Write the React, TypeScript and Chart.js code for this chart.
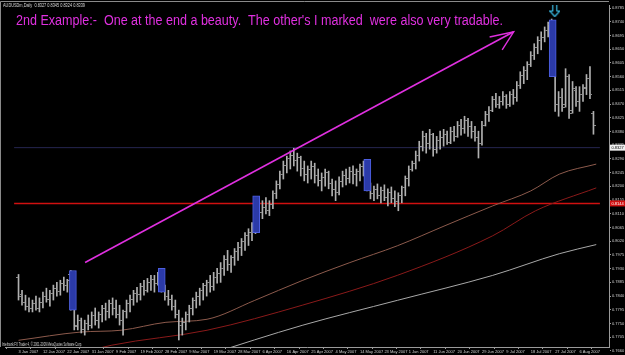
import React, { useEffect, useRef } from 'react';
import Chart from 'chart.js/auto';

// ---- data (prices in pips, 1 pip = 0.0001) ----
const dateLabels = ['3 Jan 2007','12 Jan 2007','22 Jan 2007','31 Jan 2007','9 Feb 2007','19 Feb 2007','28 Feb 2007','9 Mar 2007','19 Mar 2007','28 Mar 2007','6 Apr 2007','16 Apr 2007','25 Apr 2007','4 May 2007','14 May 2007','23 May 2007','1 Jun 2007','11 Jun 2007','20 Jun 2007','29 Jun 2007','9 Jul 2007','18 Jul 2007','27 Jul 2007','6 Aug 2007'];
const dateTickIdx = [0,7,14,21,28,35,42,49,56,63,70,77,84,91,98,105,112,119,126,133,140,147,154,161];
const priceTicks = [8785,8740,8695,8650,8605,8560,8515,8470,8425,8380,8335,8290,8245,8200,8155,8110,8065,8020,7975,7930,7885,7840,7795,7750,7705,7660];

const opens = [7900,7845,7820,7805,7798,7815,7800,7820,7840,7830,7850,7865,7855,7880,7875,7910,7798,7745,7760,7730,7750,7745,7775,7760,7780,7800,7790,7815,7800,7780,7760,7790,7815,7830,7850,7845,7870,7860,7885,7895,7880,7925,7860,7840,7830,7805,7780,7745,7755,7780,7800,7825,7840,7860,7875,7885,7870,7900,7915,7930,7960,7945,7965,7985,8000,8020,8040,8050,8070,8150,8115,8130,8120,8140,8175,8205,8240,8270,8290,8300,8285,8295,8260,8240,8255,8265,8235,8220,8230,8245,8210,8190,8180,8215,8235,8225,8250,8240,8250,8265,8280,8195,8175,8190,8170,8185,8165,8180,8160,8150,8170,8195,8225,8255,8275,8300,8330,8365,8340,8370,8320,8350,8360,8370,8345,8380,8365,8400,8390,8415,8395,8380,8360,8340,8400,8435,8450,8485,8470,8480,8495,8470,8500,8490,8530,8565,8580,8600,8630,8655,8680,8690,8710,8740,8570,8470,8490,8470,8560,8450,8515,8480,8500,8520,8555,8440];
const highs = [7911,7859,7843,7834,7827,7840,7834,7853,7866,7859,7876,7885,7892,7902,7895,7924,7800,7778,7768,7761,7778,7788,7801,7788,7810,7817,7827,7834,7827,7810,7794,7827,7843,7859,7869,7882,7892,7898,7908,7908,7918,7931,7876,7859,7843,7827,7794,7768,7788,7810,7834,7853,7866,7882,7892,7908,7918,7931,7950,7973,7990,7973,7996,8016,8029,8048,8061,8081,8166,8160,8153,8163,8153,8185,8218,8250,8283,8299,8316,8325,8309,8299,8283,8267,8283,8276,8257,8244,8257,8250,8224,8218,8231,8250,8257,8263,8267,8257,8273,8283,8289,8211,8201,8208,8198,8205,8192,8198,8185,8179,8201,8234,8267,8283,8316,8348,8381,8374,8387,8374,8364,8381,8387,8381,8394,8397,8413,8420,8430,8423,8413,8397,8381,8413,8446,8462,8495,8505,8495,8511,8501,8511,8518,8544,8576,8593,8609,8642,8668,8691,8707,8723,8739,8749,8651,8511,8521,8586,8567,8544,8527,8527,8534,8567,8593,8446];
const lows = [7827,7810,7794,7788,7788,7794,7788,7801,7820,7807,7827,7840,7843,7859,7853,7794,7729,7729,7719,7712,7729,7735,7745,7735,7755,7761,7768,7778,7768,7745,7712,7768,7788,7810,7820,7827,7843,7853,7859,7853,7876,7853,7827,7810,7794,7768,7696,7712,7729,7755,7778,7801,7810,7827,7840,7853,7859,7882,7885,7908,7924,7918,7941,7957,7973,7990,8006,8022,8045,8104,8094,8110,8104,8127,8160,8192,8224,8244,8257,8267,8250,8234,8218,8211,8224,8211,8201,8185,8201,8192,8169,8153,8172,8198,8205,8211,8208,8201,8218,8234,8185,8159,8153,8159,8146,8153,8136,8146,8133,8120,8146,8169,8201,8250,8257,8283,8316,8309,8322,8299,8309,8322,8332,8338,8340,8348,8361,8368,8374,8364,8358,8348,8293,8335,8398,8413,8445,8459,8456,8466,8456,8462,8469,8479,8521,8537,8550,8593,8616,8635,8648,8674,8690,8560,8446,8430,8446,8460,8423,8440,8462,8446,8479,8501,8488,8371];
const closes = [7840,7820,7805,7798,7815,7800,7820,7840,7830,7850,7865,7855,7880,7875,7890,7800,7740,7760,7730,7750,7745,7775,7760,7780,7800,7790,7815,7800,7780,7760,7790,7815,7830,7850,7845,7870,7860,7885,7895,7880,7910,7860,7840,7830,7805,7780,7745,7755,7780,7800,7825,7840,7860,7875,7885,7870,7900,7915,7930,7960,7945,7965,7985,8000,8020,8040,8050,8070,8150,8115,8130,8120,8140,8175,8205,8240,8270,8290,8300,8285,8295,8260,8240,8255,8265,8235,8220,8230,8245,8210,8190,8180,8215,8235,8225,8250,8240,8250,8265,8275,8195,8175,8190,8170,8185,8165,8180,8160,8150,8170,8195,8225,8255,8275,8300,8330,8365,8340,8370,8320,8350,8360,8370,8345,8380,8365,8400,8390,8415,8395,8380,8360,8340,8400,8435,8450,8485,8470,8480,8495,8470,8500,8490,8530,8565,8580,8600,8630,8655,8680,8690,8710,8730,8570,8470,8490,8460,8560,8440,8520,8480,8500,8525,8555,8500,8400];

// marked bars (blue rectangles)
const markIdx = [15.6, 41.1, 68.2, 100.1, 153.3];
const markHigh = [7924, 7931, 8169, 8289, 8746];
const markLow = [7794, 7853, 8048, 8185, 8560];

// moving averages (sampled points)
const maBrownIdx = [0, 17.8, 29.5, 42.3, 54.1, 67.8, 81.4, 95.1, 108.7, 122.4, 136.1, 147.0, 155.2, 165.8];
const maBrownVal = [7695, 7722, 7728, 7754, 7764, 7826, 7891, 7950, 8005, 8071, 8136, 8185, 8240, 8273];
const maRedIdx = [15.8, 26.8, 54.1, 81.4, 108.7, 136.1, 148.4, 165.8];
const maRedVal = [7647, 7679, 7728, 7810, 7908, 8038, 8120, 8195];
const maGreyIdx = [54.1, 81.4, 108.7, 136.1, 155.2, 165.8];
const maGreyVal = [7647, 7744, 7826, 7908, 7979, 8009];

const supportLevel = 8144;
const bidLevel = 8327;
const trendIdx = [19.1, 142.1];
const trendVal = [7950, 8707];
const headIdx = [135.2, 142.1, 138.8];
const headVal = [8690, 8707, 8648];
const downArrowIdx = 153.9;
const downArrowVal = 8777;

const X_MIN = -0.273;
const X_MAX = 165.85;
const Y_MIN = 7673;
const Y_MAX = 8795;

const titleText = "2nd Example:-  One at the end a beauty.  The other's I marked  were also very tradable.";
const headerText = 'AUDUSDm,Daily  0.8327 0.8345 0.8324 0.8339';
const copyText = 'Interbank FX Trader 4, \u00A9 2001-2009 MetaQuotes Software Corp.';

function makeTick(side: 'open' | 'close', color: string) {
  const c = document.createElement('canvas');
  c.width = 5; c.height = 1;
  const g = c.getContext('2d')!;
  g.fillStyle = color;
  if (side === 'open') g.fillRect(0, 0, 2, 1); else g.fillRect(3, 0, 2, 1);
  return c;
}

function makeDownArrow() {
  const c = document.createElement('canvas');
  c.width = 11; c.height = 14;
  const g = c.getContext('2d')!;
  g.strokeStyle = '#3cc0ea';
  g.lineWidth = 1.2;
  g.beginPath();
  g.moveTo(3.5, 0.5); g.lineTo(7.5, 0.5); g.lineTo(7.5, 7.5); g.lineTo(10.5, 7.5);
  g.lineTo(5.5, 13); g.lineTo(0.5, 7.5); g.lineTo(3.5, 7.5); g.closePath();
  g.stroke();
  return c;
}

export default function App() {
  const ref = useRef<HTMLCanvasElement | null>(null);
  useEffect(() => {
    document.body.style.margin = '0';
    document.body.style.background = '#000';
    const canvas = ref.current!;
    const barColor = '#b0b0b0';
    const openTick = makeTick('open', '#8c8c8c');
    const closeTick = makeTick('close', '#8c8c8c');
    const arrowImg = makeDownArrow();

    const deco = {
      id: 'deco',
      beforeDraw(chart: any) {
        const ctx = chart.ctx;
        ctx.save();
        ctx.fillStyle = '#000';
        ctx.fillRect(0, 0, chart.width, chart.height);
        ctx.restore();
      },
      afterDraw(chart: any) {
        const ctx = chart.ctx;
        const a = chart.chartArea;
        const y = chart.scales.y;
        ctx.save();
        // frame
        ctx.strokeStyle = '#8a8a8a';
        ctx.lineWidth = 1;
        ctx.beginPath();
        ctx.moveTo(0.5, a.bottom); ctx.lineTo(0.5, 1.5); ctx.lineTo(a.right, 1.5);
        ctx.stroke();
        // title
        ctx.fillStyle = '#e030e0';
        ctx.font = '14px "Liberation Sans", Arial, sans-serif';
        ctx.textBaseline = 'alphabetic';
        ctx.fillText(titleText, 16, 25, 487);
        // header + copyright
        ctx.fillStyle = '#d8d8d8';
        ctx.font = '4.5px "Liberation Sans", Arial, sans-serif';
        ctx.fillText(headerText, 3, 7, 82);
        ctx.fillText(copyText, 2, 346, 80);
        // price boxes
        const boxes = [
          { v: bidLevel, bg: '#f0f0f0', fg: '#000' },
          { v: supportLevel, bg: '#d01010', fg: '#ffffff' },
        ];
        ctx.font = '4px "Liberation Sans", Arial, sans-serif';
        ctx.textBaseline = 'middle';
        for (const b of boxes) {
          const py = y.getPixelForValue(b.v);
          ctx.fillStyle = b.bg;
          ctx.fillRect(610, py - 3, 15, 6);
          ctx.fillStyle = b.fg;
          ctx.fillText((b.v / 10000).toFixed(4), 611.5, py + 0.5, 13);
        }
        ctx.restore();
      },
    };

    const font = { family: '"Liberation Sans", Arial, sans-serif', size: 4 };

    const chart = new Chart(canvas, {
      type: 'bar',
      data: {
        datasets: [
          {
            type: 'bar',
            label: 'marks',
            data: markIdx.map((x, i) => ({ x, y: [markLow[i], markHigh[i]] })) as any,
            backgroundColor: '#2b3aa8',
            borderColor: '#4d5fe0',
            borderWidth: 1,
            borderSkipped: false,
            barThickness: 7,
            grouped: false,
            order: 0,
          } as any,
          {
            type: 'bar',
            label: 'range',
            data: highs.map((h, i) => ({ x: i, y: [lows[i], h] })) as any,
            backgroundColor: barColor,
            borderWidth: 0,
            barThickness: 1,
            grouped: false,
            order: 2,
          } as any,
          {
            type: 'scatter',
            label: 'open',
            data: opens.map((o, i) => ({ x: i, y: o })),
            pointStyle: openTick as any,
            order: 1,
          } as any,
          {
            type: 'scatter',
            label: 'close',
            data: closes.map((c, i) => ({ x: i, y: c })),
            pointStyle: closeTick as any,
            order: 1,
          } as any,
          {
            type: 'line',
            label: 'ma1',
            data: maBrownIdx.map((x, i) => ({ x, y: maBrownVal[i] })),
            borderColor: '#8c5a4c',
            borderWidth: 1,
            pointRadius: 0,
            cubicInterpolationMode: 'monotone',
            order: 5,
          } as any,
          {
            type: 'line',
            label: 'ma2',
            data: maRedIdx.map((x, i) => ({ x, y: maRedVal[i] })),
            borderColor: '#8a1a1a',
            borderWidth: 1,
            pointRadius: 0,
            cubicInterpolationMode: 'monotone',
            order: 5,
          } as any,
          {
            type: 'line',
            label: 'ma3',
            data: maGreyIdx.map((x, i) => ({ x, y: maGreyVal[i] })),
            borderColor: '#a8a8a8',
            borderWidth: 1,
            pointRadius: 0,
            cubicInterpolationMode: 'monotone',
            order: 5,
          } as any,
          {
            type: 'line',
            label: 'support',
            data: [{ x: X_MIN - 1, y: supportLevel }, { x: X_MAX + 1, y: supportLevel }],
            borderColor: '#d01010',
            borderWidth: 1.6,
            pointRadius: 0,
            order: 6,
          } as any,
          {
            type: 'line',
            label: 'bid',
            data: [{ x: X_MIN - 1, y: bidLevel }, { x: X_MAX + 1, y: bidLevel }],
            borderColor: '#262650',
            borderWidth: 1,
            pointRadius: 0,
            order: 6,
          } as any,
          {
            type: 'line',
            label: 'trend',
            data: trendIdx.map((x, i) => ({ x, y: trendVal[i] })),
            borderColor: '#e030e0',
            borderWidth: 1.6,
            pointRadius: 0,
            order: 0,
          } as any,
          {
            type: 'line',
            label: 'head',
            data: headIdx.map((x, i) => ({ x, y: headVal[i] })),
            borderColor: '#e030e0',
            borderWidth: 1.4,
            pointRadius: 0,
            order: 0,
          } as any,
          {
            type: 'scatter',
            label: 'downArrow',
            data: [{ x: downArrowIdx, y: downArrowVal }],
            pointStyle: arrowImg as any,
            order: 0,
          } as any,
        ],
      },
      options: {
        responsive: false,
        animation: false,
        events: [],
        layout: { padding: { left: 1, top: 3, right: 0, bottom: 0 } },
        plugins: { legend: { display: false }, tooltip: { enabled: false } },
        scales: {
          x: {
            type: 'linear',
            min: X_MIN,
            max: X_MAX,
            afterBuildTicks: (s: any) => { s.ticks = dateTickIdx.map((v) => ({ value: v })); },
            afterFit: (s: any) => { s.height = 8; },
            grid: { display: true, drawOnChartArea: false, drawTicks: true, tickLength: 2, color: '#9a9a9a' },
            border: { display: true, color: '#9a9a9a' },
            ticks: {
              color: '#cfcfcf',
              font,
              padding: 0,
              align: 'start',
              maxRotation: 0,
              minRotation: 0,
              autoSkip: false,
              callback: (_v: any, i: number) => dateLabels[i],
            },
          },
          y: {
            type: 'linear',
            position: 'right',
            min: Y_MIN,
            max: Y_MAX,
            afterBuildTicks: (s: any) => { s.ticks = priceTicks.map((v) => ({ value: v })); },
            afterFit: (s: any) => { s.width = 16; },
            grid: { display: true, drawOnChartArea: false, drawTicks: true, tickLength: 2, color: '#9a9a9a' },
            border: { display: true, color: '#9a9a9a' },
            ticks: {
              color: '#cfcfcf',
              font,
              padding: 1,
              callback: (v: any) => (Number(v) / 10000).toFixed(4),
            },
          },
        },
      } as any,
      plugins: [deco],
    });
    return () => chart.destroy();
  }, []);
  return <canvas ref={ref} width={625} height={355} style={{ display: 'block' }} />;
}
